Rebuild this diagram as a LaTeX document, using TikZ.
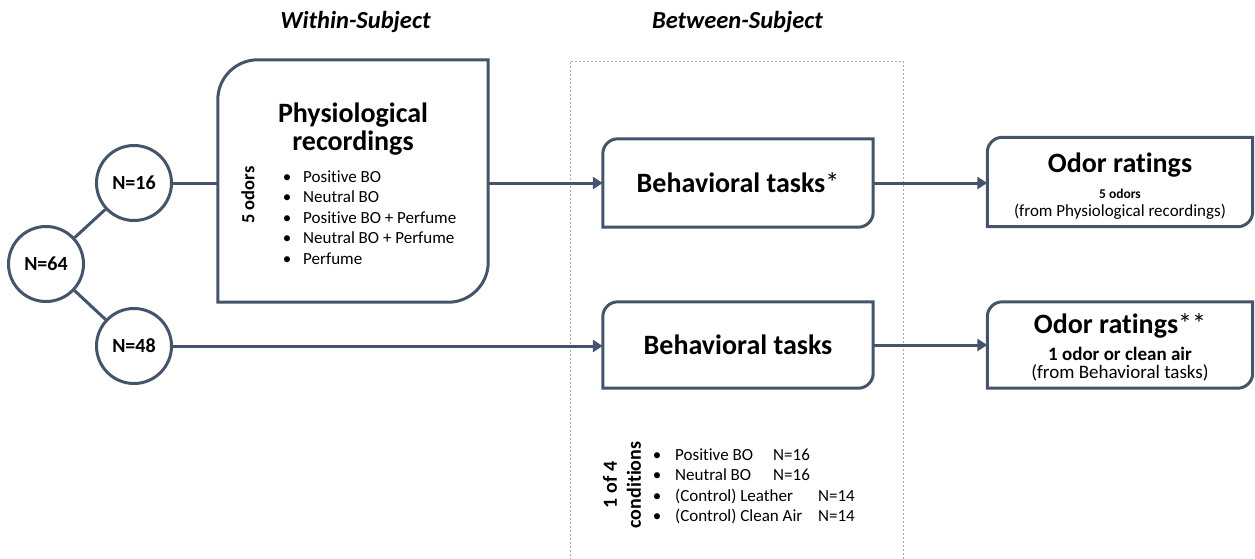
\documentclass[tikz,border=0pt]{standalone}
\usepackage{fontspec}
\setmainfont{Carlito}[Ligatures=NoCommon]
\usetikzlibrary{arrows.meta}
\definecolor{slate}{RGB}{68,84,106}
\definecolor{dashgray}{RGB}{170,170,170}
\begin{document}
\begin{tikzpicture}[x=1pt,y=-1pt,
  ln/.style={draw=slate,line width=3pt},
  arr/.style={ln,-{Triangle[length=10pt,width=12pt]}},
  circ/.style={circle,draw=slate,line width=3pt,minimum size=75pt,inner sep=0pt,font=\fontsize{20}{24}\selectfont\bfseries},
  frame/.style={rectangle,inner sep=0pt},
  title/.style={font=\fontsize{24.5}{28}\selectfont\bfseries\itshape,inner sep=0pt},
  big/.style={font=\fontsize{28}{28}\selectfont\bfseries,align=center,inner sep=0pt},
  small/.style={font=\fontsize{17}{20.5}\selectfont,align=left,inner sep=0pt},
  sub/.style={align=center,inner sep=0pt}]
\useasboundingbox (0,0) rectangle (1255,558);

% titles
\node[title] (t1) at (355.5,22) {Within-Subject};
\node[title] (t2) at (737.5,22) {Between-Subject};

% dashed between-subject frame
\draw[dashgray,line width=0.9pt,dash pattern=on 2pt off 2pt] (570,600) -- (570,61) -- (903,61) -- (903,600);

% circles
\node[circ] (n64) at (46,264) {N=64};
\node[circ] (n16) at (134,183) {N=16};
\node[circ] (n48) at (134,346) {N=48};
\draw[ln] (n64) -- (n16);
\draw[ln] (n64) -- (n48);

% frames (outline drawn with two rounded corners)
\node[frame,minimum width=270pt,minimum height=242pt] (phys) at (353,181) {};
\node[frame,minimum width=270pt,minimum height=88pt] (bt1) at (738,183) {};
\node[frame,minimum width=270pt,minimum height=86pt] (bt2) at (738,345) {};
\node[frame,minimum width=265pt,minimum height=89pt] (od1) at (1120,182) {};
\node[frame,minimum width=265pt,minimum height=86pt] (od2) at (1120,345) {};

\draw[ln] (phys.west) [rounded corners=40pt] |- (phys.north) [sharp corners] -| (phys.east) [rounded corners=40pt] |- (phys.south) [sharp corners] -| (phys.west) -- cycle;
\foreach \b in {bt1,bt2,od1,od2}{
  \draw[ln] (\b.west) [rounded corners=15pt] |- (\b.north) [sharp corners] -| (\b.east) [rounded corners=15pt] |- (\b.south) [sharp corners] -| (\b.west) -- cycle;
}

% texts (base anchor = baseline of the last line)
\node[big,anchor=base] (physT) at (353,150) {Physiological\\recordings};
\node[small,anchor=base west] (physL) at (287,264) {%
\makebox[0pt]{\textbullet}\hspace{16pt}Positive BO\\
\makebox[0pt]{\textbullet}\hspace{16pt}Neutral BO\\
\makebox[0pt]{\textbullet}\hspace{16pt}Positive BO + Perfume\\
\makebox[0pt]{\textbullet}\hspace{16pt}Neutral BO + Perfume\\
\makebox[0pt]{\textbullet}\hspace{16pt}Perfume};
\node[rotate=90,font=\fontsize{18.5}{22}\selectfont\bfseries,inner sep=0pt] (five) at (248,195) {5 odors};

\node[big] (bt1T) at (738,183) {Behavioral tasks{\mdseries*}};
\node[big] (bt2T) at (738,345) {Behavioral tasks};

\node[big] (od1T) at (1120,165) {Odor ratings};
\node[sub,font=\fontsize{13.5}{16}\selectfont\bfseries] (od1S) at (1120,194) {5 odors};
\node[sub,font=\fontsize{17}{20}\selectfont] (od1R) at (1120,212) {(from Physiological recordings)};
\node[big] (od2T) at (1120,326) {Odor ratings{\mdseries**}};
\node[sub,font=\fontsize{19}{22}\selectfont\bfseries] (od2S) at (1120,354) {1 odor or clean air};
\node[sub,font=\fontsize{19}{22}\selectfont] (od2R) at (1120,373) {(from Behavioral tasks)};

\node[rotate=90,font=\fontsize{20}{24}\selectfont\bfseries,align=center,inner sep=0pt] (cond) at (622,485) {1 of 4\\conditions};
\node[small,anchor=base west] (condL) at (657,521.5) {%
\makebox[0pt]{\textbullet}\hspace{18pt}\makebox[98pt][l]{Positive BO}N=16\\
\makebox[0pt]{\textbullet}\hspace{18pt}\makebox[98pt][l]{Neutral BO}N=16\\
\makebox[0pt]{\textbullet}\hspace{18pt}\makebox[143pt][l]{(Control) Leather}N=14\\
\makebox[0pt]{\textbullet}\hspace{18pt}\makebox[143pt][l]{(Control) Clean Air}N=14};

% connectors
\draw[ln] (n16.east) -- (n16.east -| phys.west);
\draw[arr] (phys.east |- bt1.west) -- (bt1.west);
\draw[arr] (bt1.east) -- (od1.west |- bt1.east);
\draw[arr] (n48.east) -- (n48.east -| bt2.west);
\draw[arr] (bt2.east) -- (od2.west |- bt2.east);
\end{tikzpicture}
\end{document}
